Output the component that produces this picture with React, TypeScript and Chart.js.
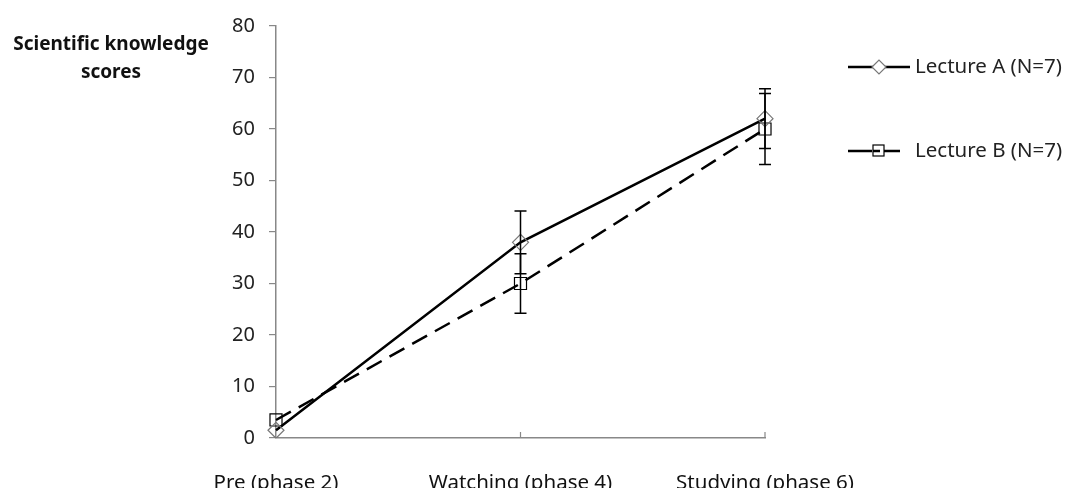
import React, { useEffect, useRef } from "react";
import { Chart, registerables } from "chart.js";

Chart.register(...registerables);

const categories = ["Pre (phase 2)", "Watching (phase 4)", "Studying (phase 6)"];
const lectureA = [1.5, 38, 62];
const lectureB = [3.5, 30, 60];
const errA = [0, 6.1, 5.8];
const errB = [0, 5.8, 6.9];
const seriesNames = ["Lecture A (N=7)", "Lecture B (N=7)"];
const yTitle = ["Scientific knowledge", "scores"];

const FONT = "'Noto Sans', sans-serif";

const errorBarPlugin = {
  id: "errorBars",
  afterDatasetsDraw(chart: any) {
    const ctx = chart.ctx;
    const y = chart.scales.y;
    const x = chart.scales.x;
    const errs = [errA, errB];
    const vals = [lectureA, lectureB];
    ctx.save();
    ctx.strokeStyle = "#000";
    ctx.lineWidth = 1.5;
    vals.forEach((vs, di) => {
      vs.forEach((v, i) => {
        const e = errs[di][i];
        if (!e) return;
        const px = x.getPixelForValue(i);
        const top = y.getPixelForValue(v + e);
        const bot = y.getPixelForValue(v - e);
        ctx.beginPath();
        ctx.moveTo(px, top);
        ctx.lineTo(px, bot);
        ctx.moveTo(px - 6, top);
        ctx.lineTo(px + 6, top);
        ctx.moveTo(px - 6, bot);
        ctx.lineTo(px + 6, bot);
        ctx.stroke();
      });
    });
    // inside tick marks on x axis
    ctx.strokeStyle = "#888";
    ctx.lineWidth = 1.2;
    for (let i = 1; i < categories.length; i++) {
      const px = x.getPixelForValue(i);
      ctx.beginPath();
      ctx.moveTo(px, chart.chartArea.bottom);
      ctx.lineTo(px, chart.chartArea.bottom - 6);
      ctx.stroke();
    }
    ctx.restore();
  },
  afterDraw(chart: any) {
    const ctx = chart.ctx;
    ctx.save();
    // y title
    ctx.fillStyle = "#111";
    ctx.font = `bold 19px ${FONT}`;
    ctx.textAlign = "center";
    ctx.textBaseline = "middle";
    ctx.fillText(yTitle[0], 111, 45);
    ctx.fillText(yTitle[1], 111, 73);
    // legend
    ctx.font = `20.5px ${FONT}`;
    ctx.textAlign = "left";
    ctx.fillStyle = "#222";
    ctx.strokeStyle = "#000";
    ctx.lineWidth = 2.5;
    // A
    ctx.beginPath();
    ctx.moveTo(848, 67);
    ctx.lineTo(910, 67);
    ctx.stroke();
    ctx.fillStyle = "#fff";
    ctx.strokeStyle = "#777";
    ctx.lineWidth = 1.2;
    ctx.beginPath();
    ctx.moveTo(879 - 7, 67);
    ctx.lineTo(879, 60);
    ctx.lineTo(879 + 7, 67);
    ctx.lineTo(879, 74);
    ctx.closePath();
    ctx.fill();
    ctx.stroke();
    ctx.fillStyle = "#222";
    ctx.fillText(seriesNames[0], 915, 67);
    // B
    ctx.strokeStyle = "#000";
    ctx.lineWidth = 2.5;
    ctx.beginPath();
    ctx.moveTo(848, 151);
    ctx.lineTo(872, 151);
    ctx.moveTo(884, 151);
    ctx.lineTo(900, 151);
    ctx.stroke();
    ctx.lineWidth = 1.2;
    ctx.strokeRect(873, 145, 11, 11);
    ctx.beginPath();
    ctx.lineWidth = 2.5;
    ctx.moveTo(873, 151);
    ctx.lineTo(880, 151);
    ctx.stroke();
    ctx.fillText(seriesNames[1], 915, 151);
    ctx.restore();
  },
};

export default function App() {
  const ref = useRef<HTMLCanvasElement>(null);
  useEffect(() => {
    document.body.style.margin = "0";
    const chart = new Chart(ref.current!, {
      type: "line",
      data: {
        labels: categories,
        datasets: [
          {
            label: seriesNames[0],
            data: lectureA,
            borderColor: "#000",
            borderWidth: 2.5,
            pointStyle: "rectRot",
            pointRadius: 8,
            pointBorderColor: "#777",
            pointBorderWidth: 1.2,
            pointBackgroundColor: "rgba(255,255,255,0)",
            tension: 0,
          },
          {
            label: seriesNames[1],
            data: lectureB,
            borderColor: "#000",
            borderWidth: 2.5,
            borderDash: [17, 9],
            pointStyle: "rect",
            pointRadius: 8.5,
            pointBorderColor: "#000",
            pointBorderWidth: 1.2,
            pointBackgroundColor: "rgba(255,255,255,0)",
            tension: 0,
          },
        ],
      },
      options: {
        animation: false,
        responsive: false,
        layout: { padding: { left: 216, right: 302, top: 24, bottom: 0 } },
        plugins: { legend: { display: false }, tooltip: { enabled: false } },
        scales: {
          x: {
            type: "category",
            offset: false,
            grid: { display: false },
            border: { display: true, color: "#888", width: 1.5 },
            ticks: { padding: 25, color: "#111", font: { family: FONT, size: 20.5 }, maxRotation: 0 },
            afterFit: (s: any) => {
              s.height = 50;
            },
          },
          y: {
            min: 0,
            max: 80,
            grid: { drawOnChartArea: false, drawTicks: true, tickLength: 7, color: "#888", lineWidth: 1.2 },
            border: { display: true, color: "#888", width: 1.5 },
            ticks: { stepSize: 10, padding: 14, color: "#222", font: { family: FONT, size: 20 } },
            afterFit: (s: any) => {
              s.width = 60;
            },
          },
        },
      },
      plugins: [errorBarPlugin],
    });
    return () => chart.destroy();
  }, []);
  return (
    <div style={{ position: "absolute", left: 0, top: 0, width: 1067, height: 488, background: "#fff" }}>
      <canvas ref={ref} width={1067} height={488} style={{ width: 1067, height: 488 }} />
    </div>
  );
}
